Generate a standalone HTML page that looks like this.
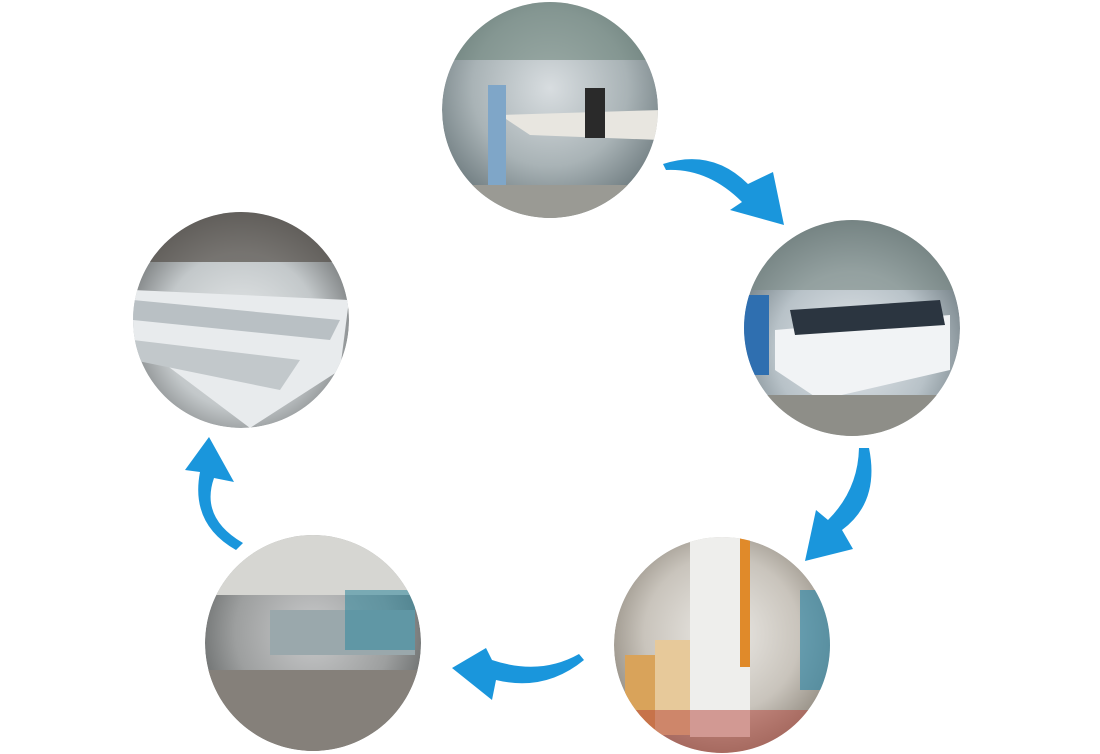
<!DOCTYPE html>
<html><head><meta charset="utf-8"><style>
html,body{margin:0;padding:0;background:#fff;width:1100px;height:754px;overflow:hidden}
</style></head><body>
<svg width="1100" height="754" viewBox="0 0 1100 754" xmlns="http://www.w3.org/2000/svg">
<defs>
<radialGradient id="g1" cx="50%" cy="40%" r="60%"><stop offset="0" stop-color="#d8dde0"/><stop offset="0.6" stop-color="#a9b3b6"/><stop offset="1" stop-color="#6f7c80"/></radialGradient>
<radialGradient id="g2" cx="50%" cy="60%" r="60%"><stop offset="0" stop-color="#e4e8ec"/><stop offset="0.6" stop-color="#b8c2c8"/><stop offset="1" stop-color="#6d7a80"/></radialGradient>
<radialGradient id="g3" cx="50%" cy="45%" r="60%"><stop offset="0" stop-color="#eceae6"/><stop offset="0.6" stop-color="#c9c4bc"/><stop offset="1" stop-color="#8a8378"/></radialGradient>
<radialGradient id="g4" cx="50%" cy="45%" r="60%"><stop offset="0" stop-color="#c9cacb"/><stop offset="0.6" stop-color="#9d9f9f"/><stop offset="1" stop-color="#5f6262"/></radialGradient>
<radialGradient id="g5" cx="50%" cy="55%" r="60%"><stop offset="0" stop-color="#e6e9ea"/><stop offset="0.6" stop-color="#c3c8ca"/><stop offset="1" stop-color="#6c6f70"/></radialGradient>
<clipPath id="c1"><circle cx="550" cy="110" r="108"/></clipPath>
<clipPath id="c2"><circle cx="852" cy="328" r="108"/></clipPath>
<clipPath id="c3"><circle cx="722" cy="645" r="108"/></clipPath>
<clipPath id="c4"><circle cx="313" cy="643" r="108"/></clipPath>
<clipPath id="c5"><circle cx="241" cy="320" r="108"/></clipPath>
</defs>
<g clip-path="url(#c1)">
<circle cx="550" cy="110" r="108" fill="url(#g1)"/>
<rect x="440" y="0" width="220" height="60" fill="#5f7a6e" opacity="0.5"/>
<polygon points="500,115 660,110 660,140 530,135" fill="#e8e6e0"/>
<rect x="488" y="85" width="18" height="110" fill="#7fa6c8"/>
<rect x="585" y="88" width="20" height="50" fill="#2a2a2a"/>
<rect x="440" y="185" width="220" height="35" fill="#9a9a94"/>
</g>
<g clip-path="url(#c2)">
<circle cx="852" cy="328" r="108" fill="url(#g2)"/>
<rect x="744" y="220" width="216" height="70" fill="#7b8a86" opacity="0.6"/>
<polygon points="775,330 950,315 950,370 820,400 775,370" fill="#f1f3f5"/>
<polygon points="790,310 940,300 945,325 795,335" fill="#2b3540"/>
<rect x="744" y="295" width="25" height="80" fill="#2f6fb0"/>
<rect x="744" y="395" width="216" height="41" fill="#8e8e88"/>
</g>
<g clip-path="url(#c3)">
<circle cx="722" cy="645" r="108" fill="url(#g3)"/>
<rect x="690" y="537" width="60" height="200" fill="#eeeeec"/>
<rect x="740" y="537" width="10" height="130" fill="#e08a2a"/>
<rect x="625" y="655" width="35" height="80" fill="#d9a35a"/>
<rect x="655" y="640" width="35" height="95" fill="#e7c99a"/>
<rect x="800" y="590" width="30" height="100" fill="#3b8aa6" opacity="0.7"/>
<rect x="614" y="710" width="216" height="43" fill="#b5443a" opacity="0.5"/>
</g>
<g clip-path="url(#c4)">
<circle cx="313" cy="643" r="108" fill="url(#g4)"/>
<rect x="205" y="535" width="216" height="60" fill="#d6d6d2"/>
<rect x="270" y="610" width="145" height="45" fill="#9aa8ac"/>
<rect x="345" y="590" width="70" height="60" fill="#3a8ca0" opacity="0.6"/>
<rect x="205" y="670" width="216" height="81" fill="#85807a"/>
</g>
<g clip-path="url(#c5)">
<circle cx="241" cy="320" r="108" fill="url(#g5)"/>
<rect x="133" y="212" width="216" height="50" fill="#56504a" opacity="0.7"/>
<polygon points="133,290 349,300 340,370 250,428 133,340" fill="#e8ebed"/>
<polygon points="133,300 340,320 330,340 133,320" fill="#b9c0c4"/>
<polygon points="133,340 300,360 280,390 133,360" fill="#c2c8cb"/>
</g>
<g fill="#1a96dc">
<path d="M663,164 Q712,148 748,184 L773,172 L784,225 L730,210 L742,202 Q708,168 666,170 Z"/>
<path d="M869,448 Q880,502 842,530 L853,549 L805,561 L816,510 L828,520 Q858,490 859,448 Z"/>
<path d="M584,660 Q545,692 496,680 L492,700 L452,668 L486,648 L492,660 Q540,676 579,654 Z"/>
<path d="M243,543 Q200,518 214,478 L234,482 L209,437 L185,470 L200,472 Q190,524 236,550 Z"/>
</g>
</svg>
</body></html>
